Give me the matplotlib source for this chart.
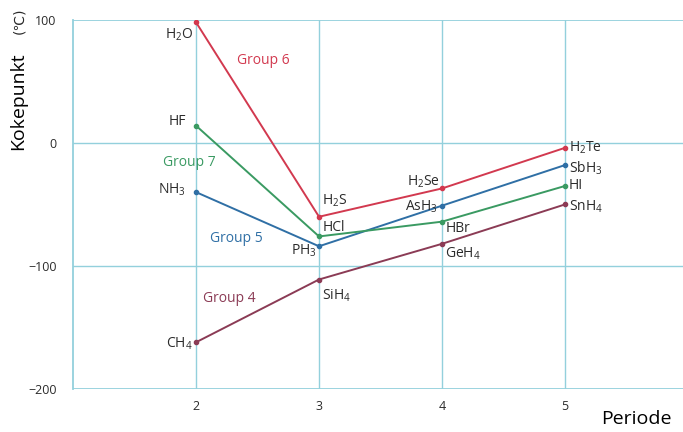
import matplotlib.pyplot as plt

plt.rcParams['font.family'] = ['Open Sans', 'DejaVu Sans']
plt.rcParams['mathtext.default'] = 'regular'

periods = [2, 3, 4, 5]

g4_names = ['CH$_4$', 'SiH$_4$', 'GeH$_4$', 'SnH$_4$']
g4_bp = [-162, -111, -82, -50]
g5_names = ['NH$_3$', 'PH$_3$', 'AsH$_3$', 'SbH$_3$']
g5_bp = [-40, -84, -51, -18]
g6_names = ['H$_2$O', 'H$_2$S', 'H$_2$Se', 'H$_2$Te']
g6_bp = [98, -60, -37, -4]
g7_names = ['HF', 'HCl', 'HBr', 'HI']
g7_bp = [14, -76, -64, -35]

group_labels = ['Group 4', 'Group 5', 'Group 6', 'Group 7']
yticks = [100, 0, -100, -200]

c4, c5, c6, c7 = '#8b3b55', '#2f6fa5', '#d2394f', '#3a9a62'
grid_c = '#93d0dc'
txt_c = '#2b2b2b'

# label offsets in pixels (dx, dy, ha) for each point
off4 = [(-3, -2, 'right'), (3, -16, 'left'), (3, -10, 'left'), (4, -2, 'left')]
off5 = [(-10, 2, 'right'), (-2, -5, 'right'), (-4, -1, 'right'), (4, -3, 'left')]
off6 = [(-3, -12, 'right'), (3, 16, 'left'), (-2, 7, 'right'), (4, 0, 'left')]
off7 = [(-10, 4, 'right'), (4, 9, 'left'), (4, -7, 'left'), (4, 0, 'left')]

fig = plt.figure(figsize=(6.83, 4.32), dpi=100)
ax = fig.add_axes([0.107, 0.0995, 0.893, 0.8545])
ax.set_xlim(1, 5.96)
ax.set_ylim(-200, 100)

for v in periods:
    ax.axvline(v, color=grid_c, lw=1, zorder=0)
for v in yticks:
    ax.axhline(v, color=grid_c, lw=1.3 if v in (100, -200) else 1, zorder=0)
for s in ['top', 'right', 'bottom']:
    ax.spines[s].set_visible(False)
ax.spines['left'].set_color(grid_c)
ax.spines['left'].set_linewidth(1.3)

ax.set_xticks(periods)
ax.set_yticks(yticks)
ax.set_yticklabels(['100', '0', '\u2212100', '\u2212200'])
ax.tick_params(length=0, labelsize=9, colors=txt_c)
ax.tick_params(axis='x', pad=8)
ax.tick_params(axis='y', pad=12)

for names, vals, offs, col in [(g4_names, g4_bp, off4, c4), (g5_names, g5_bp, off5, c5),
                               (g6_names, g6_bp, off6, c6), (g7_names, g7_bp, off7, c7)]:
    ax.plot(periods, vals, color=col, lw=1.4, marker='o', ms=3, zorder=3)
    for x, y, n, (dx, dy, ha) in zip(periods, vals, names, offs):
        ax.annotate(n, (x, y), xytext=(dx, dy), textcoords='offset pixels',
                    ha=ha, va='center', fontsize=10, color=txt_c)

# group captions
fig.text(229 / 683, 1 - 298 / 432, group_labels[0], color=c4, fontsize=10, ha='center', va='center')
fig.text(236 / 683, 1 - 238 / 432, group_labels[1], color=c5, fontsize=10, ha='center', va='center')
fig.text(263 / 683, 1 - 60 / 432, group_labels[2], color=c6, fontsize=10, ha='center', va='center')
fig.text(189 / 683, 1 - 163 / 432, group_labels[3], color=c7, fontsize=10, ha='center', va='center')

fig.text(18 / 683, 1 - 101 / 432, 'Kokepunkt', rotation=90, fontsize=14, ha='center', va='center', color='black')
fig.text(19 / 683, 1 - 21 / 432, '(\u2103)', rotation=90, fontsize=10, ha='center', va='center', color=txt_c,
         family=['DejaVu Sans'])
fig.text(636 / 683, 1 - 419 / 432, 'Periode', fontsize=14, ha='center', va='center', color='black')

fig.savefig('out.png', dpi=100)
